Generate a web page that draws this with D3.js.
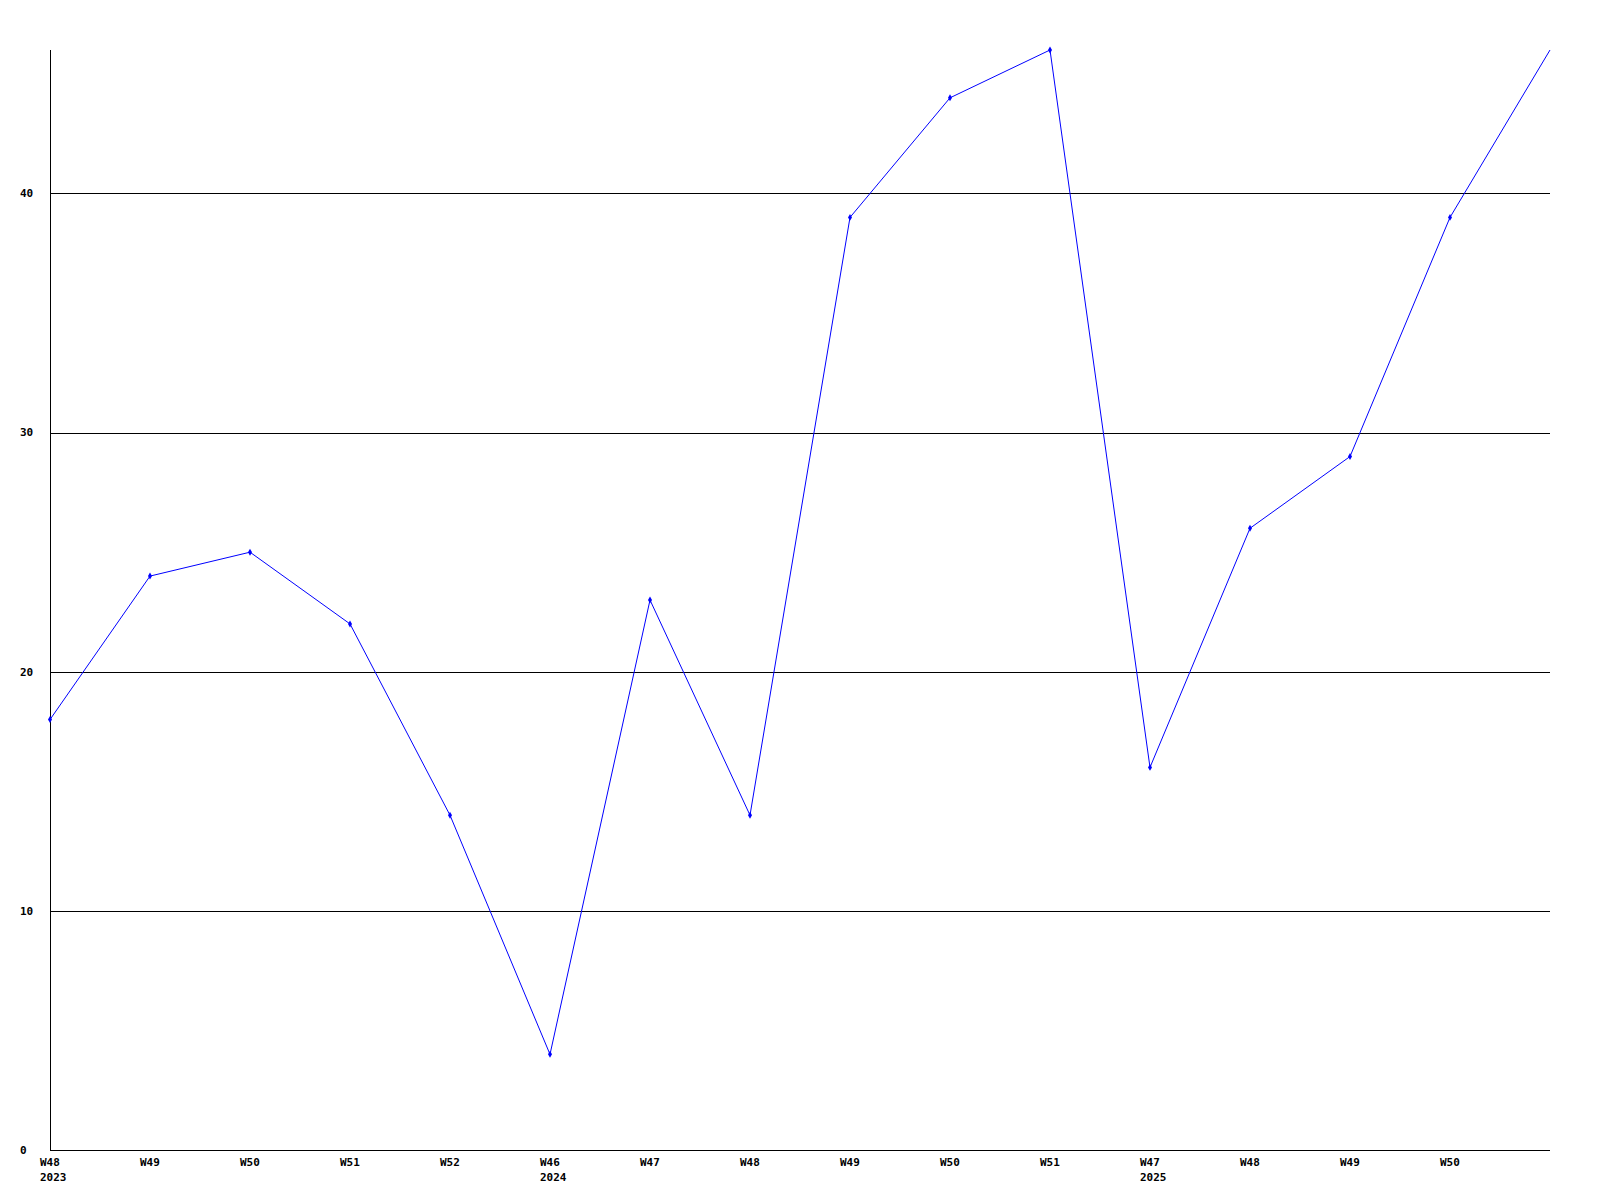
<!DOCTYPE html>
<html>
<head>
<meta charset="utf-8">
<script src="https://cdn.jsdelivr.net/npm/d3@7"></script>
<style>
  body { margin: 0; background: #fff; }
  text { font-family: "DejaVu Sans Mono", "Liberation Mono", monospace; font-weight: bold; font-size: 11px; fill: #000; }
</style>
</head>
<body>
<svg id="chart" width="1600" height="1200"></svg>
<script>
// week labels along the bottom, year shown under the first week of each run
var weeks = ["W48", "W49", "W50", "W51", "W52", "W46", "W47", "W48", "W49", "W50", "W51", "W47", "W48", "W49", "W50", "W51"];
var years = ["2023", "", "", "", "", "2024", "", "", "", "", "", "2025", "", "", "", ""];
var values = [18, 24, 25, 22, 14, 4, 23, 14, 39, 44, 46, 16, 26, 29, 39, 46];
var yTicks = [0, 10, 20, 30, 40];
var labelCount = 15; // last point has no label and no marker

var margin = { top: 50, left: 50 };
var width = 1500, height = 1100;

var svg = d3.select("#chart");

var x = d3.scaleLinear().domain([0, values.length - 1]).range([margin.left, margin.left + width]);
var y = d3.scaleLinear().domain([0, 46]).range([margin.top + height, margin.top]);

// horizontal grid lines
svg.selectAll(".grid")
    .data(yTicks)
    .enter().append("line")
    .attr("x1", x(0))
    .attr("x2", x(values.length - 1))
    .attr("y1", d => Math.round(y(d)) + 0.5)
    .attr("y2", d => Math.round(y(d)) + 0.5)
    .attr("stroke", "#000")
    .attr("stroke-width", 1);

// y axis line
svg.append("line")
    .attr("x1", x(0) + 0.5).attr("x2", x(0) + 0.5)
    .attr("y1", y(46)).attr("y2", y(0))
    .attr("stroke", "#000");

// y tick labels
svg.selectAll(".ylab")
    .data(yTicks)
    .enter().append("text")
    .attr("x", 20)
    .attr("y", d => y(d))
    .attr("dy", "0.35em")
    .text(d => d);

// x tick labels
var xl = svg.selectAll(".xlab")
    .data(weeks.slice(0, labelCount))
    .enter().append("g")
    .attr("transform", (d, i) => "translate(" + (x(i) - 10) + ",0)");

xl.append("text").attr("y", 1166).text(d => d);
xl.append("text").attr("y", 1181).text((d, i) => years[i]);

// the series
var line = d3.line()
    .x((d, i) => x(i))
    .y(d => y(d));

svg.append("path")
    .datum(values)
    .attr("fill", "none")
    .attr("stroke", "#0000ff")
    .attr("stroke-width", 1)
    .attr("d", line);

svg.selectAll(".pt")
    .data(values.slice(0, labelCount))
    .enter().append("path")
    .attr("d", d3.symbol(d3.symbolDiamond, 14))
    .attr("transform", (d, i) => "translate(" + x(i) + "," + y(d) + ")")
    .attr("fill", "#0000ff");
</script>
</body>
</html>
